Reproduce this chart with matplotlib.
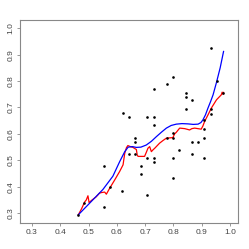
import matplotlib
matplotlib.use("Agg")
import matplotlib.pyplot as plt

# scatter points
pts_x = [0.464, 0.484, 0.553, 0.553, 0.575, 0.619, 0.621, 0.642, 0.642, 0.663, 0.663,
         0.663, 0.687, 0.687, 0.708, 0.708, 0.708, 0.731, 0.731, 0.731, 0.731, 0.731,
         0.776, 0.776, 0.798, 0.798, 0.798, 0.798, 0.798, 0.819, 0.843, 0.843, 0.843,
         0.865, 0.865, 0.865, 0.887, 0.909, 0.909, 0.909, 0.909, 0.931, 0.931, 0.931,
         0.954, 0.976]
pts_y = [0.294, 0.338, 0.477, 0.325, 0.401, 0.384, 0.679, 0.664, 0.523, 0.586, 0.571,
         0.523, 0.477, 0.448, 0.664, 0.508, 0.369, 0.771, 0.664, 0.632, 0.508, 0.493,
         0.787, 0.586, 0.817, 0.586, 0.603, 0.508, 0.433, 0.540, 0.756, 0.741, 0.695,
         0.727, 0.571, 0.523, 0.571, 0.617, 0.651, 0.586, 0.508, 0.925, 0.695, 0.676,
         0.802, 0.756]

# smooth (blue) curve
blue_x = [0.464, 0.504, 0.551, 0.586, 0.610, 0.628, 0.640, 0.655, 0.669, 0.685, 0.704,
          0.722, 0.740, 0.758, 0.775, 0.792, 0.810, 0.830, 0.851, 0.870, 0.887, 0.897,
          0.904, 0.913, 0.922, 0.931, 0.940, 0.952, 0.965, 0.977]
blue_y = [0.294, 0.338, 0.390, 0.440, 0.495, 0.533, 0.550, 0.552, 0.549, 0.550, 0.558,
          0.572, 0.590, 0.607, 0.622, 0.632, 0.637, 0.639, 0.638, 0.636, 0.637, 0.643,
          0.653, 0.672, 0.698, 0.722, 0.748, 0.795, 0.850, 0.912]

# jagged (red) curve
red_x = [0.464, 0.476, 0.486, 0.492, 0.498, 0.502, 0.510, 0.527, 0.539, 0.545, 0.557,
         0.563, 0.575, 0.592, 0.610, 0.622, 0.628, 0.634, 0.639, 0.648, 0.657, 0.669,
         0.672, 0.675, 0.698, 0.704, 0.710, 0.716, 0.722, 0.728, 0.734, 0.751, 0.763,
         0.775, 0.798, 0.804, 0.810, 0.822, 0.840, 0.857, 0.865, 0.875, 0.898, 0.904,
         0.910, 0.922, 0.934, 0.952, 0.969, 0.972, 0.975, 0.977]
red_y = [0.294, 0.318, 0.342, 0.350, 0.366, 0.340, 0.348, 0.362, 0.376, 0.378, 0.380,
         0.372, 0.395, 0.425, 0.458, 0.483, 0.527, 0.548, 0.556, 0.552, 0.549, 0.541,
         0.520, 0.515, 0.515, 0.530, 0.546, 0.552, 0.533, 0.540, 0.546, 0.565, 0.575,
         0.584, 0.586, 0.600, 0.606, 0.622, 0.620, 0.615, 0.620, 0.622, 0.618, 0.630,
         0.647, 0.672, 0.698, 0.729, 0.748, 0.758, 0.750, 0.757]

ticks = [0.3, 0.4, 0.5, 0.6, 0.7, 0.8, 0.9, 1.0]
tick_labels = ["0.3", "0.4", "0.5", "0.6", "0.7", "0.8", "0.9", "1.0"]

plt.rcParams['font.family'] = ['Liberation Sans', 'DejaVu Sans']

fig = plt.figure(figsize=(2.49, 2.49), dpi=100)
ax = fig.add_axes([20/249, 1 - 223/249, 218/249, 203/249])

ax.plot(red_x, red_y, color='#ff0000', lw=0.9, zorder=2)
ax.plot(blue_x, blue_y, color='#0000ff', lw=0.9, zorder=3)
ax.plot(pts_x, pts_y, 'o', color='black', ms=1.9, mew=0, zorder=4)

ax.set_xlim(0.258, 1.028)
ax.set_ylim(0.263, 1.031)
ax.set_xticks(ticks)
ax.set_xticklabels(tick_labels)
ax.set_yticks(ticks)
ax.set_yticklabels(tick_labels, rotation=90, va='center')

for s in ax.spines.values():
    s.set_color('#888888')
    s.set_linewidth(0.8)
ax.tick_params(axis='both', length=2.5, width=0.6, color='#888888',
               labelsize=6, labelcolor='#444444', pad=1.5)

fig.savefig('out.png', dpi=100)
